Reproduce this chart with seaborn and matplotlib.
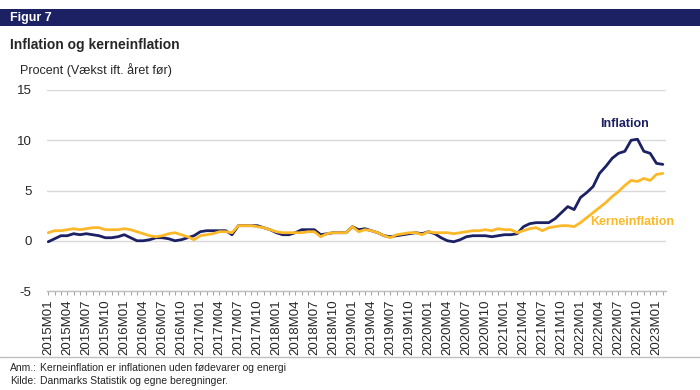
import matplotlib
matplotlib.use("Agg")
import numpy as np
import pandas as pd
import matplotlib.pyplot as plt
from matplotlib.patches import Rectangle
from matplotlib.lines import Line2D
import seaborn as sns

# Monthly periods 2015M01 - 2023M02
periods = [f"{y}M{m:02d}" for y in range(2015, 2024) for m in range(1, 13)][:98]

# Inflation (annual growth, pct)
inflation = [
    -0.1, 0.2, 0.5, 0.5, 0.7, 0.6, 0.7, 0.6, 0.5, 0.3, 0.3, 0.4,   # 2015
    0.6, 0.3, 0.0, 0.0, 0.1, 0.3, 0.3, 0.2, 0.0, 0.1, 0.3, 0.5,    # 2016
    0.9, 1.0, 1.0, 1.0, 1.0, 0.6, 1.5, 1.5, 1.5, 1.5, 1.3, 1.1,    # 2017
    0.8, 0.6, 0.6, 0.8, 1.1, 1.1, 1.1, 0.6, 0.7, 0.8, 0.8, 0.8,    # 2018
    1.4, 1.1, 1.2, 1.0, 0.8, 0.5, 0.4, 0.5, 0.6, 0.7, 0.8, 0.7,    # 2019
    0.9, 0.7, 0.3, 0.0, -0.1, 0.1, 0.4, 0.5, 0.5, 0.5, 0.4, 0.5,   # 2020
    0.6, 0.6, 0.7, 1.4, 1.7, 1.8, 1.8, 1.8, 2.2, 2.8, 3.4, 3.1,    # 2021
    4.3, 4.8, 5.4, 6.7, 7.4, 8.2, 8.7, 8.9, 10.0, 10.1, 8.9, 8.7,  # 2022
    7.7, 7.6,                                                       # 2023
]

# Kerneinflation (core inflation)
kerneinflation = [
    0.8, 1.0, 1.0, 1.1, 1.2, 1.1, 1.2, 1.3, 1.3, 1.1, 1.1, 1.1,    # 2015
    1.2, 1.1, 0.9, 0.7, 0.5, 0.4, 0.5, 0.7, 0.8, 0.6, 0.4, 0.1,    # 2016
    0.5, 0.6, 0.7, 0.9, 0.9, 0.8, 1.5, 1.5, 1.5, 1.4, 1.3, 1.1,    # 2017
    0.9, 0.8, 0.8, 0.8, 0.8, 0.9, 0.9, 0.4, 0.7, 0.8, 0.8, 0.8,    # 2018
    1.4, 0.9, 1.1, 1.0, 0.8, 0.5, 0.3, 0.6, 0.7, 0.8, 0.8, 0.6,    # 2019
    0.9, 0.8, 0.8, 0.8, 0.7, 0.8, 0.9, 1.0, 1.0, 1.1, 1.0, 1.2,    # 2020
    1.1, 1.1, 0.8, 1.0, 1.2, 1.3, 1.0, 1.3, 1.4, 1.5, 1.5, 1.4,    # 2021
    1.8, 2.3, 2.8, 3.3, 3.8, 4.4, 4.9, 5.5, 6.0, 5.9, 6.2, 6.0,    # 2022
    6.6, 6.7,                                                       # 2023
]

NAVY = "#1c2163"
ORANGE = "#fbb92a"

df = pd.DataFrame({
    "idx": np.arange(len(periods)),
    "period": periods,
    "Inflation": inflation,
    "Kerneinflation": kerneinflation,
})

sns.set_theme(style="white")
plt.rcParams["font.family"] = ["Liberation Sans", "DejaVu Sans"]
plt.rcParams["axes.unicode_minus"] = False

W, H = 700, 390
fig = plt.figure(figsize=(W / 100, H / 100), dpi=100)

# Header bar
fig.add_artist(Rectangle((0, 1 - 26 / H), 1, 17 / H, transform=fig.transFigure,
                         facecolor=NAVY, edgecolor="none", zorder=0))
fig.text(10 / W, 1 - 17.5 / H, "Figur 7", color="white", weight="bold",
         fontsize=9, va="center")
fig.text(10 / W, 1 - 45 / H, "Inflation og kerneinflation", weight="bold",
         fontsize=10, va="center")
fig.text(20 / W, 1 - 70 / H, "Procent (Vækst ift. året før)", fontsize=9,
         va="center")

ax = fig.add_axes([47 / W, 1 - 291 / H, (666 - 47) / W, (291 - 90) / H])

sns.lineplot(data=df, x="idx", y="Inflation", color=NAVY, lw=2, ax=ax)
sns.lineplot(data=df, x="idx", y="Kerneinflation", color=ORANGE, lw=2, ax=ax)

ax.set_ylim(-5, 15)
ax.set_yticks([-5, 0, 5, 10, 15])
ax.set_xlim(-0.2, 97.5)
ax.set_xticks(df["idx"][::3])
ax.set_xticklabels(df["period"][::3])
ax.set_xticks(df["idx"], minor=True)
ax.set_xlabel("")
ax.set_ylabel("")

ax.grid(axis="y", color="#d9d9d9", lw=1)
ax.set_axisbelow(True)
for side in ["top", "right", "left"]:
    ax.spines[side].set_visible(False)
ax.spines["bottom"].set_color("#bfbfbf")
ax.spines["bottom"].set_linewidth(1)

ax.tick_params(axis="x", which="both", bottom=True, length=3, width=0.8,
               color="#a6a6a6", direction="out")
ax.tick_params(axis="x", which="major", labelrotation=90, labelsize=9.5, pad=3)
ax.tick_params(axis="y", length=0, labelsize=9.5, pad=11)

# Series labels
ax.text(91, 11.6, "Inflation", color=NAVY, weight="bold", fontsize=9,
        ha="center", va="center")
ax.text(92.2, 1.9, "Kerneinflation", color=ORANGE, weight="bold", fontsize=9,
        ha="center", va="center", clip_on=False)

# Footer
fig.add_artist(Line2D([0, 1], [1 - 357 / H] * 2, transform=fig.transFigure,
                      color="#bfbfbf", lw=1))
fig.text(10 / W, 1 - 368 / H, "Anm.:", fontsize=7.5, va="center")
fig.text(40 / W, 1 - 368 / H,
         "Kerneinflation er inflationen uden fødevarer og energi",
         fontsize=7.5, va="center")
fig.text(10 / W, 1 - 381 / H, "Kilde:", fontsize=7.5, va="center")
fig.text(40 / W, 1 - 381 / H, "Danmarks Statistik og egne beregninger.",
         fontsize=7.5, va="center")

fig.savefig("out.png", dpi=100)
